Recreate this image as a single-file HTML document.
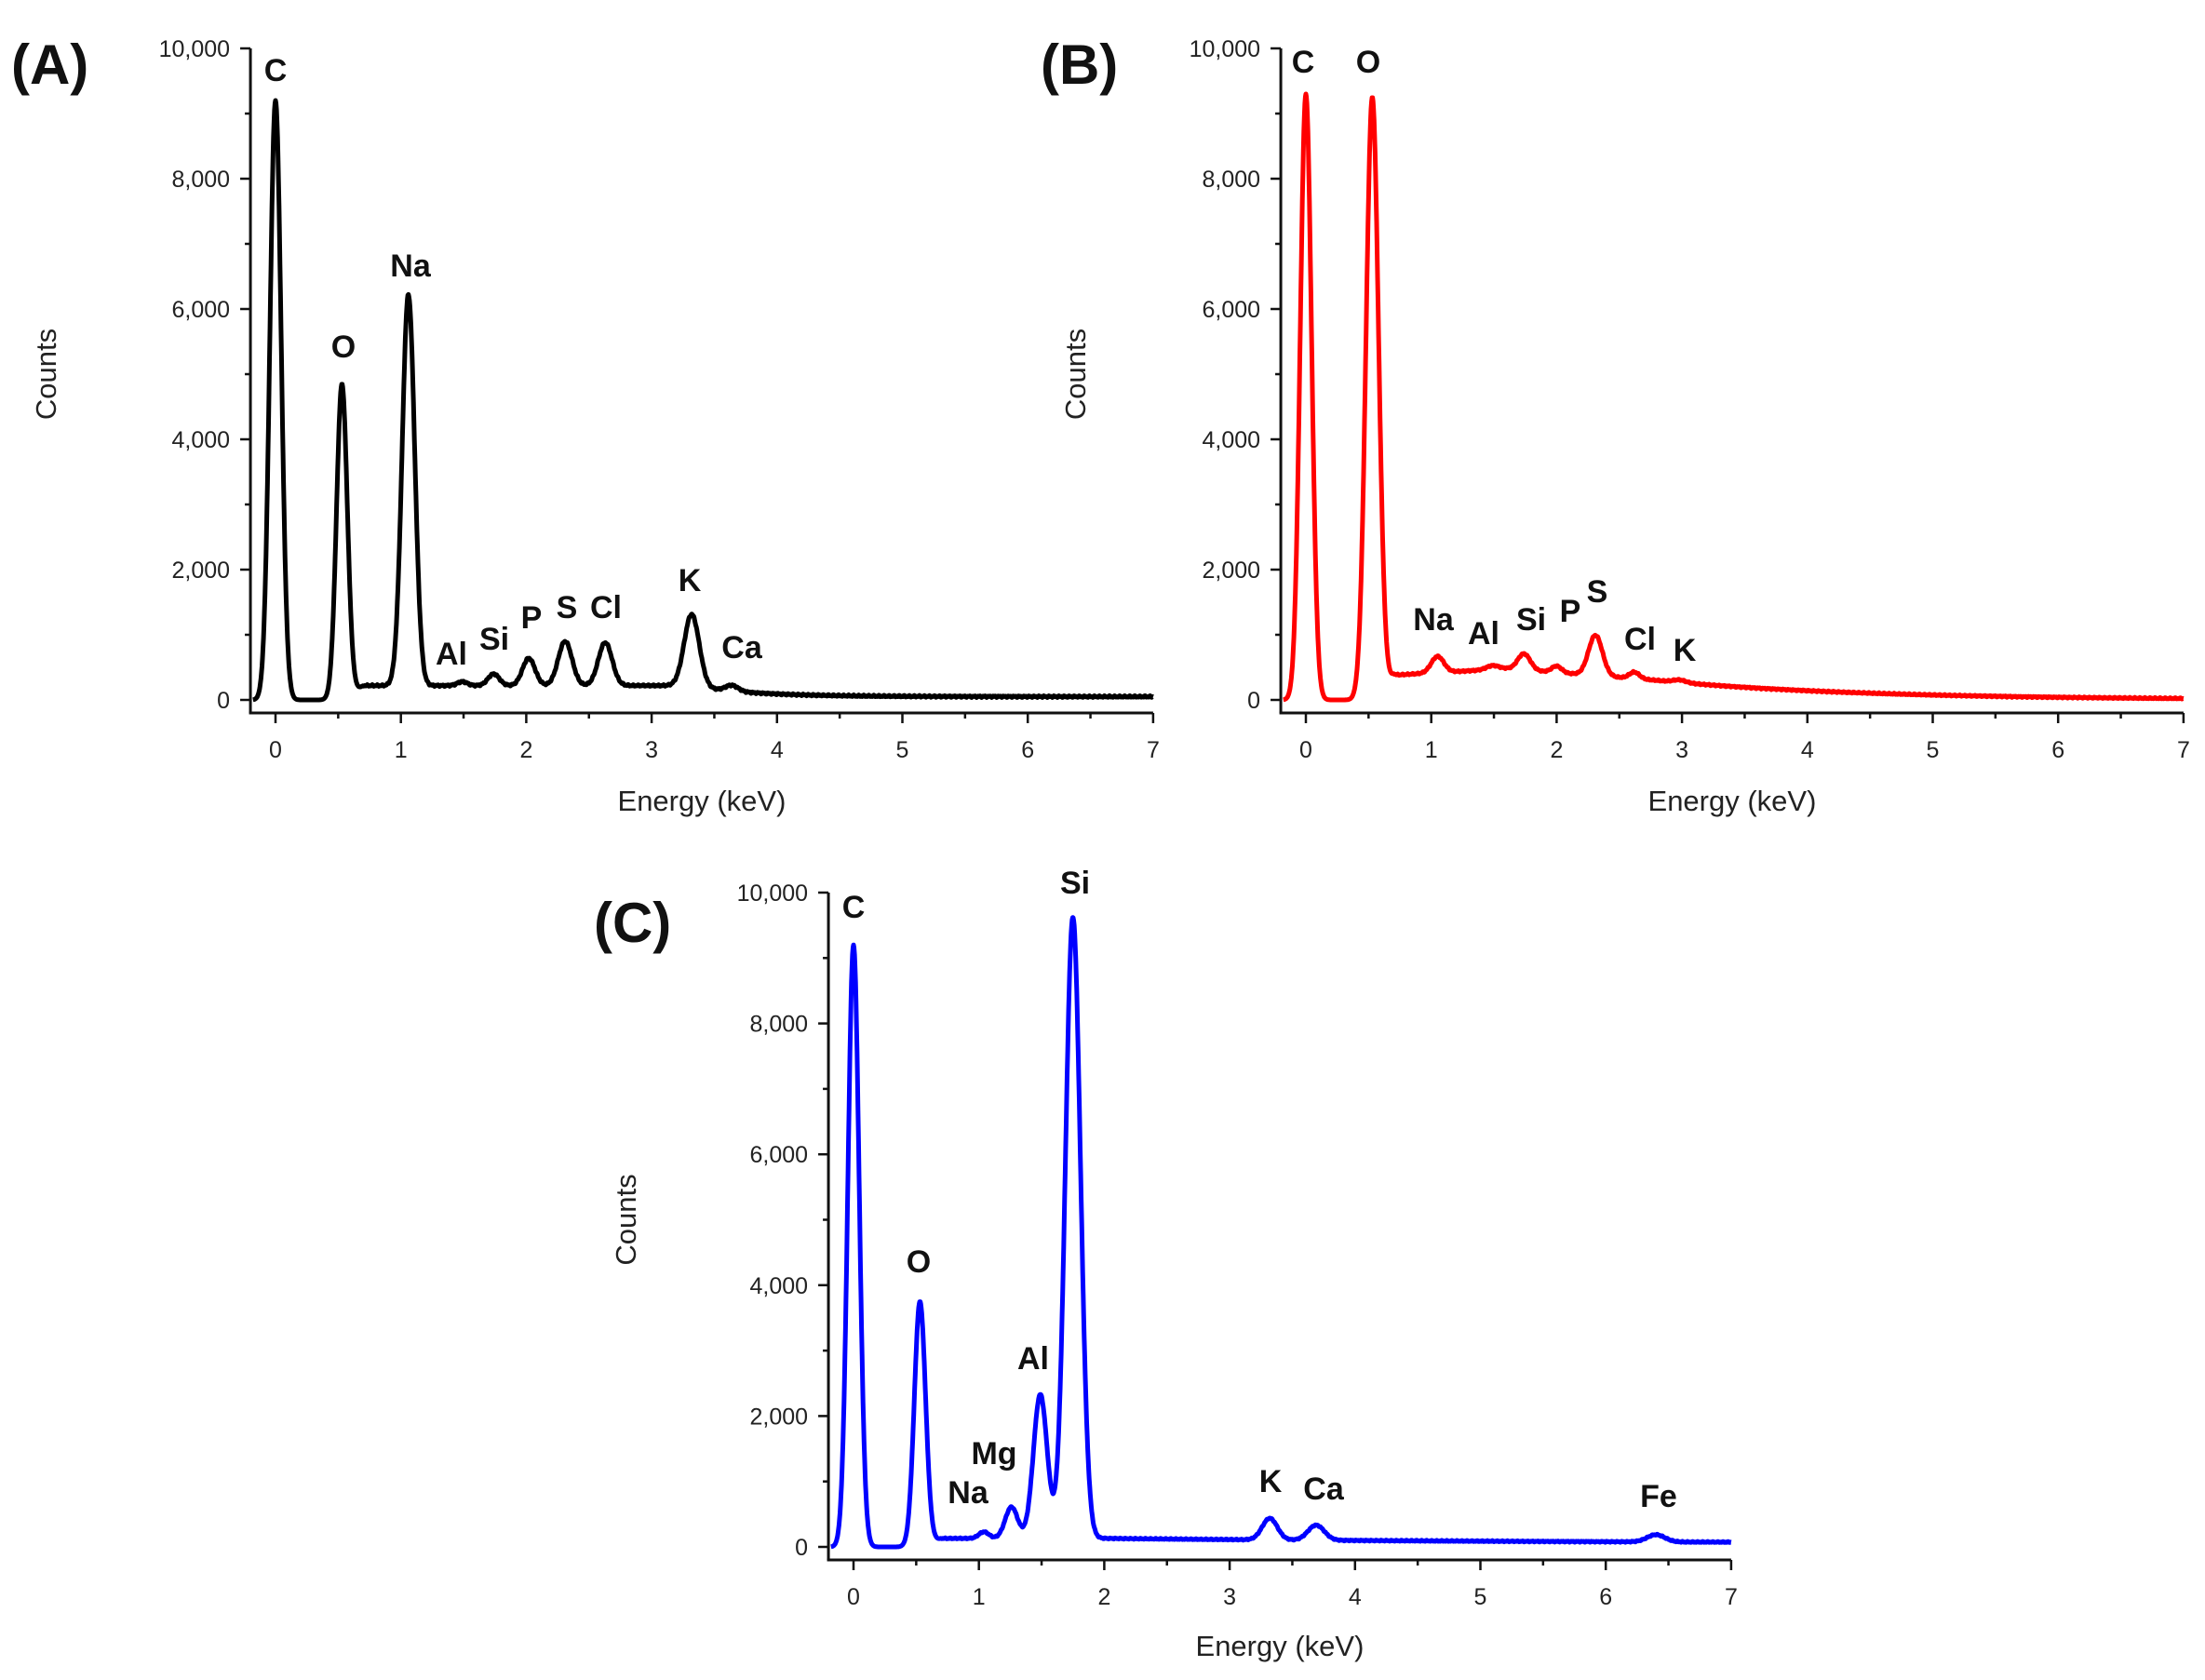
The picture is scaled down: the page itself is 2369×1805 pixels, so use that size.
<!DOCTYPE html>
<html><head><meta charset="utf-8">
<style>
html,body{margin:0;padding:0;background:#fff;}
svg{display:block;}
.tk{font-family:"Liberation Sans Narrow","Liberation Sans",sans-serif;font-size:25px;fill:#222;}
.at{font-family:"Liberation Sans",sans-serif;font-size:31px;fill:#222;}
.el{font-family:"Liberation Sans",sans-serif;font-size:34px;font-weight:bold;fill:#111;text-anchor:middle;}
.pl{font-family:"Liberation Sans",sans-serif;font-size:60px;font-weight:bold;fill:#111;}
</style></head><body>
<svg id="s" width="2369" height="1805" xmlns="http://www.w3.org/2000/svg">
<text class="pl" x="12" y="90">(A)</text>
<text class="pl" x="1118" y="90">(B)</text>
<text class="pl" x="638" y="1012">(C)</text>
<g>
<text class="el" x="296" y="87">C</text>
<text class="el" x="369" y="384">O</text>
<text class="el" x="441" y="297">Na</text>
<text class="el" x="485" y="714">Al</text>
<text class="el" x="531" y="698">Si</text>
<text class="el" x="571" y="675">P</text>
<text class="el" x="609" y="664">S</text>
<text class="el" x="651" y="664">Cl</text>
<text class="el" x="741" y="635">K</text>
<text class="el" x="797" y="707">Ca</text>
</g>
<g>
<text class="el" x="1400" y="78">C</text>
<text class="el" x="1470" y="78">O</text>
<text class="el" x="1540" y="677">Na</text>
<text class="el" x="1594" y="692">Al</text>
<text class="el" x="1645" y="677">Si</text>
<text class="el" x="1687" y="668">P</text>
<text class="el" x="1716" y="647">S</text>
<text class="el" x="1762" y="698">Cl</text>
<text class="el" x="1810" y="710">K</text>
</g>
<g>
<text class="el" x="917" y="986">C</text>
<text class="el" x="1155" y="960">Si</text>
<text class="el" x="987" y="1367">O</text>
<text class="el" x="1110" y="1471">Al</text>
<text class="el" x="1068" y="1573">Mg</text>
<text class="el" x="1040" y="1615">Na</text>
<text class="el" x="1365" y="1603">K</text>
<text class="el" x="1422" y="1611">Ca</text>
<text class="el" x="1782" y="1619">Fe</text>
</g>
</svg>
<script>
var NS="http://www.w3.org/2000/svg",S=document.getElementById("s");
function el(t,a,txt){var e=document.createElementNS(NS,t);for(var k in a)e.setAttribute(k,a[k]);if(txt!=null)e.textContent=txt;S.appendChild(e);return e;}
function panel(o){
 var x0=o.x0,k=134.7,y0=o.y0,y10=o.y10,ax=x0-0.2*k,axy=y0+14;
 var X=function(e){return x0+e*k;},Y=function(c){return y0+(y10-y0)*c/10000;};
 el("line",{x1:ax,y1:Y(10000),x2:ax,y2:axy,stroke:"#111","stroke-width":3});
 el("line",{x1:ax-1.5,y1:axy,x2:X(7),y2:axy,stroke:"#111","stroke-width":3});
 for(var c=0;c<=10000;c+=1000){var m=c%2000==0;el("line",{x1:ax-(m?11:6),y1:Y(c),x2:ax,y2:Y(c),stroke:"#111","stroke-width":2.5});
  if(m)el("text",{class:"tk",x:ax-22,y:Y(c)+9,"text-anchor":"end"},c==0?"0":(c/1000)+",000");}
 for(var e=0;e<=7.001;e+=0.5){var m=Math.abs(e-Math.round(e))<0.01;el("line",{x1:X(e),y1:axy,x2:X(e),y2:axy+(m?11:6),stroke:"#111","stroke-width":2.5});
  if(m)el("text",{class:"tk",x:X(e),y:axy+48,"text-anchor":"middle"},String(Math.round(e)));}
 el("text",{class:"at",x:(ax+X(7))/2,y:o.ey,"text-anchor":"middle"},"Energy (keV)");
 el("text",{class:"at",x:o.cx,y:(Y(10000)+y0)/2,"text-anchor":"middle",transform:"rotate(-90 "+o.cx+" "+((Y(10000)+y0)/2)+")"},"Counts");
 var d="";
 for(var e=-0.18;e<=7;e+=0.004){var v=o.bg(e);o.pk.forEach(function(p){v+=p[1]*Math.exp(-Math.pow((e-p[0])/p[2],2)/2);});
  v+=(Math.sin(e*157)*0.5+Math.sin(e*311)*0.5)*o.noise*(e>0.7?1:0);
  d+=(d?"L":"M")+X(e).toFixed(1)+" "+Y(v).toFixed(1);}
 el("path",{d:d,fill:"none",stroke:o.col,"stroke-width":5,"stroke-linejoin":"round"});
}
function sm(e,a,b){return e<a?0:e>b?1:(e-a)/(b-a);}
panel({x0:296,y0:752,y10:52,ey:871,cx:60,col:"#000",noise:15,
 bg:function(e){return sm(e,0.55,0.7)*(50+170*Math.exp(-Math.max(0,e-3.3)/0.5));},
 pk:[[0,9200,0.045],[0.53,4850,0.043],[1.06,6000,0.05],[1.49,60,0.04],[1.74,180,0.045],[2.02,420,0.05],[2.31,680,0.055],[2.63,660,0.055],[3.32,1100,0.06],[3.64,90,0.05]]});
panel({x0:1403,y0:752,y10:52,ey:871,cx:1166,col:"#f00",noise:12,
 bg:function(e){var b=e<1.6?380+100*(e-0.7)/0.9:(e<2.8?480-180*(e-1.6)/1.2:300*Math.exp(-(e-2.8)/1.6));return sm(e,0.58,0.7)*b;},
 pk:[[0,9300,0.045],[0.53,9250,0.05],[1.05,250,0.05],[1.49,60,0.05],[1.74,250,0.05],[2.0,100,0.04],[2.31,620,0.055],[2.62,100,0.04],[2.98,40,0.05]]});
panel({x0:917,y0:1662,y10:959,ey:1779,cx:683,col:"#00f",noise:10,
 bg:function(e){return sm(e,0.55,0.7)*(50+80*Math.exp(-Math.max(0,e-2)/4));},
 pk:[[0,9200,0.045],[0.53,3750,0.045],[1.04,100,0.04],[1.26,480,0.05],[1.49,2200,0.055],[1.75,9500,0.06],[3.32,330,0.06],[3.69,230,0.065],[6.40,110,0.07]]});
</script>
</body></html>
